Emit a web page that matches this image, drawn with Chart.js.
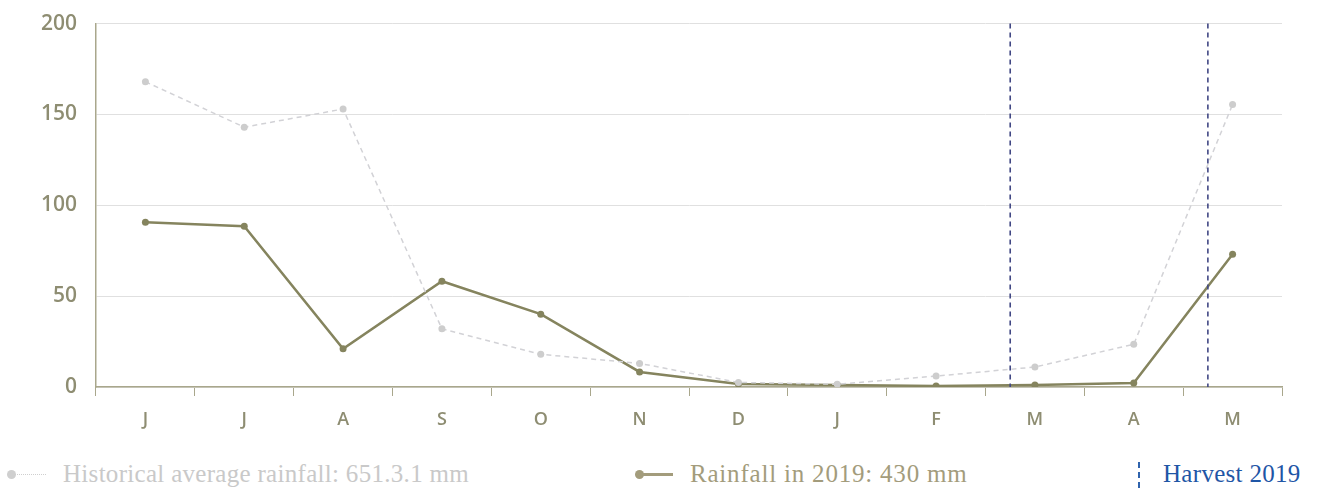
<!DOCTYPE html>
<html>
<head>
    <title>Rainfall 2019</title>
    <script src="https://cdn.jsdelivr.net/npm/chart.js"></script>
    <style>
        body {
            margin: 0;
            background: #fff;
            overflow: hidden;
        }
        .wrap {
            position: relative;
            width: 1320px;
            height: 488px;
        }
        .chart-box {
            position: absolute;
            left: 0;
            top: -8px;
            width: 1320px;
            height: 448px;
        }
        .legend-item {
            position: absolute;
            top: 460px;
            font-family: "Liberation Serif", serif;
            font-size: 25px;
            white-space: nowrap;
        }
        .marker {
            position: absolute;
        }
    </style>
</head>
<body>
    <div class="wrap">
        <div class="chart-box"><canvas id="rainChart"></canvas></div>

        <div class="marker" style="left:7px;top:470px;width:9px;height:9px;border-radius:50%;background:#cfcfcf;"></div>
        <div class="marker" style="left:14px;top:474px;width:32px;border-top:1px dotted #cfcfcf;"></div>
        <div class="legend-item" style="left:63px;color:#c9c9c9;letter-spacing:0.3px;">Historical average rainfall: 651.3.1 mm</div>

        <div class="marker" style="left:635px;top:470px;width:9px;height:9px;border-radius:50%;background:#a39c7c;"></div>
        <div class="marker" style="left:640px;top:473px;width:33px;border-top:3px solid #a39c7c;"></div>
        <div class="legend-item" style="left:690px;color:#a39c7c;letter-spacing:0.8px;">Rainfall in 2019: 430 mm</div>

        <div class="marker" style="left:1138px;top:462px;height:26px;border-left:2px dashed #2f63ad;"></div>
        <div class="legend-item" style="left:1163px;color:#1f56a6;letter-spacing:0.3px;">Harvest 2019</div>
    </div>

    <script>
        const months = ['J', 'J', 'A', 'S', 'O', 'N', 'D', 'J', 'F', 'M', 'A', 'M'];
        const historical = [168, 143, 153, 32, 18, 13, 2.5, 1.5, 6, 11, 23.5, 155.5];
        const rainfall2019 = [90.7, 88.5, 21, 58.2, 40.1, 8.3, 1.6, 1.1, 0.6, 1.1, 2.2, 73];
        const yTicks = [0, 50, 100, 150, 200];
        // harvest window markers, in category units
        const harvestMarks = [8.75, 10.75];

        const harvestLines = {
            id: 'harvestLines',
            afterDatasetsDraw(chart) {
                const ctx = chart.ctx;
                const area = chart.chartArea;
                const x = chart.scales.x;
                ctx.save();
                ctx.strokeStyle = '#414784';
                ctx.lineWidth = 1.6;
                ctx.setLineDash([5, 4]);
                harvestMarks.forEach(v => {
                    const px = x.getPixelForValue(v);
                    ctx.beginPath();
                    ctx.moveTo(px, area.top);
                    ctx.lineTo(px, area.bottom);
                    ctx.stroke();
                });
                ctx.restore();
            }
        };

        new Chart(document.getElementById('rainChart').getContext('2d'), {
            type: 'line',
            data: {
                labels: months,
                datasets: [{
                    label: 'Historical average rainfall',
                    data: historical,
                    borderColor: '#d2d2d6',
                    backgroundColor: '#cdcdcd',
                    borderWidth: 1.5,
                    borderDash: [5, 4],
                    pointRadius: 3.5,
                    pointBorderWidth: 0,
                    tension: 0
                }, {
                    label: 'Rainfall in 2019',
                    data: rainfall2019,
                    borderColor: '#85845e',
                    backgroundColor: '#85845e',
                    borderWidth: 2.5,
                    pointRadius: 3.5,
                    pointBorderWidth: 0,
                    tension: 0
                }]
            },
            options: {
                responsive: true,
                maintainAspectRatio: false,
                animation: false,
                layout: {
                    padding: { top: 15, right: 38, left: 0, bottom: 0 }
                },
                plugins: {
                    legend: { display: false },
                    tooltip: { enabled: false }
                },
                scales: {
                    x: {
                        offset: true,
                        grid: {
                            offset: true,
                            drawOnChartArea: false,
                            color: '#a9a78c',
                            tickLength: 9
                        },
                        border: { color: '#a9a78c', width: 1.5 },
                        ticks: {
                            color: '#8e8d72',
                            padding: 13,
                            font: { family: 'Open Sans', size: 18, weight: '600' }
                        },
                        afterFit(scale) { scale.height = 53; }
                    },
                    y: {
                        min: 0,
                        max: 200,
                        afterBuildTicks(scale) {
                            scale.ticks = yTicks.map(v => ({ value: v }));
                        },
                        grid: {
                            color: '#e0e0e0',
                            drawTicks: false
                        },
                        border: { color: '#a9a78c', width: 1.5 },
                        ticks: {
                            color: '#8e8d72',
                            padding: 19,
                            font: { family: 'Open Sans', size: 21, weight: '600' }
                        },
                        afterFit(scale) { scale.width = 96; }
                    }
                }
            },
            plugins: [harvestLines]
        });
    </script>
</body>
</html>
